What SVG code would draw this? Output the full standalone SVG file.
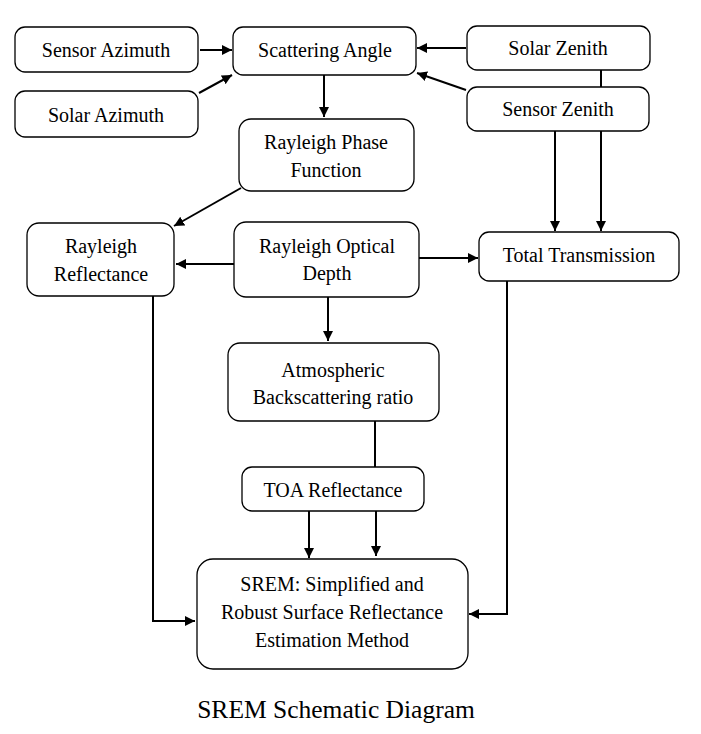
<svg xmlns="http://www.w3.org/2000/svg" width="701" height="734" viewBox="0 0 701 734">
<defs>
<marker id="ah" viewBox="0 0 10 10" refX="10" refY="5" markerWidth="10" markerHeight="10" markerUnits="userSpaceOnUse" orient="auto">
<path d="M0,0 L10,5 L0,10 z" fill="#000"/>
</marker>
<style>
.box{fill:#fff;stroke:#000;stroke-width:1.3}
.t{font-family:'Liberation Serif','DejaVu Serif',serif;font-size:20px;fill:#000;text-anchor:middle}
.c{fill:none;stroke:#000;stroke-width:2}
.a{marker-end:url(#ah)}
</style>
</defs>
<rect width="701" height="734" fill="#fff"/>
<g id="connectors">
<line class="c a" x1="200" y1="50" x2="232" y2="50"/>
<line class="c a" x1="199" y1="93" x2="232" y2="75"/>
<line class="c a" x1="466" y1="48" x2="417" y2="48"/>
<line class="c a" x1="466" y1="90" x2="417" y2="73"/>
<line class="c" x1="601" y1="70" x2="601" y2="88"/>
<line class="c a" x1="601" y1="131" x2="601" y2="231"/>
<line class="c a" x1="555" y1="131" x2="555" y2="231"/>
<line class="c a" x1="324" y1="75" x2="324" y2="117"/>
<line class="c a" x1="241" y1="188" x2="174" y2="226"/>
<line class="c a" x1="234" y1="264" x2="176" y2="264"/>
<line class="c a" x1="419" y1="258" x2="478" y2="258"/>
<line class="c a" x1="328" y1="297" x2="328" y2="341"/>
<line class="c" x1="375" y1="421" x2="375" y2="467"/>
<line class="c a" x1="309" y1="511" x2="309" y2="558"/>
<line class="c a" x1="376" y1="511" x2="376" y2="556"/>
<polyline class="c a" points="153,296 153,621 195,621"/>
<polyline class="c a" points="507,281 507,614 469,614"/>
</g>
<g id="sensor-azimuth"><rect class="box" x="15" y="27" width="183" height="45" rx="10"/><text class="t" x="106" y="57" font-family="Liberation Serif, serif">Sensor Azimuth</text></g>
<g id="solar-azimuth"><rect class="box" x="15" y="91" width="183" height="46" rx="10"/><text class="t" x="106" y="122">Solar Azimuth</text></g>
<g id="scattering-angle"><rect class="box" x="233" y="27" width="183" height="48" rx="10"/><text class="t" x="325" y="57">Scattering Angle</text></g>
<g id="solar-zenith"><rect class="box" x="467" y="26" width="183" height="44" rx="10"/><text class="t" x="558" y="55">Solar Zenith</text></g>
<g id="sensor-zenith"><rect class="box" x="467" y="87" width="182" height="44" rx="10"/><text class="t" x="558" y="116">Sensor Zenith</text></g>
<g id="rayleigh-phase"><rect class="box" x="239" y="119" width="175" height="72" rx="12"/><text class="t" x="326" y="149">Rayleigh Phase</text><text class="t" x="326" y="177">Function</text></g>
<g id="rayleigh-reflectance"><rect class="box" x="27" y="223" width="147" height="73" rx="12"/><text class="t" x="101" y="253">Rayleigh</text><text class="t" x="101" y="281">Reflectance</text></g>
<g id="rayleigh-optical-depth"><rect class="box" x="234" y="222" width="185" height="75" rx="12"/><text class="t" x="327" y="253">Rayleigh Optical</text><text class="t" x="327" y="280">Depth</text></g>
<g id="total-transmission"><rect class="box" x="479" y="232" width="200" height="49" rx="10"/><text class="t" x="579" y="262">Total Transmission</text></g>
<g id="atmospheric-backscattering"><rect class="box" x="228" y="343" width="211" height="78" rx="12"/><text class="t" x="333" y="377">Atmospheric</text><text class="t" x="333" y="404">Backscattering ratio</text></g>
<g id="toa-reflectance"><rect class="box" x="242" y="467" width="182" height="44" rx="10"/><text class="t" x="333" y="497">TOA Reflectance</text></g>
<g id="srem"><rect class="box" x="197" y="559" width="271" height="110" rx="16"/><text class="t" x="332" y="591">SREM: Simplified and</text><text class="t" x="332" y="619">Robust Surface Reflectance</text><text class="t" x="332" y="647">Estimation Method</text></g>
<text class="t" x="336" y="718" style="font-size:25.5px">SREM Schematic Diagram</text>
</svg>
